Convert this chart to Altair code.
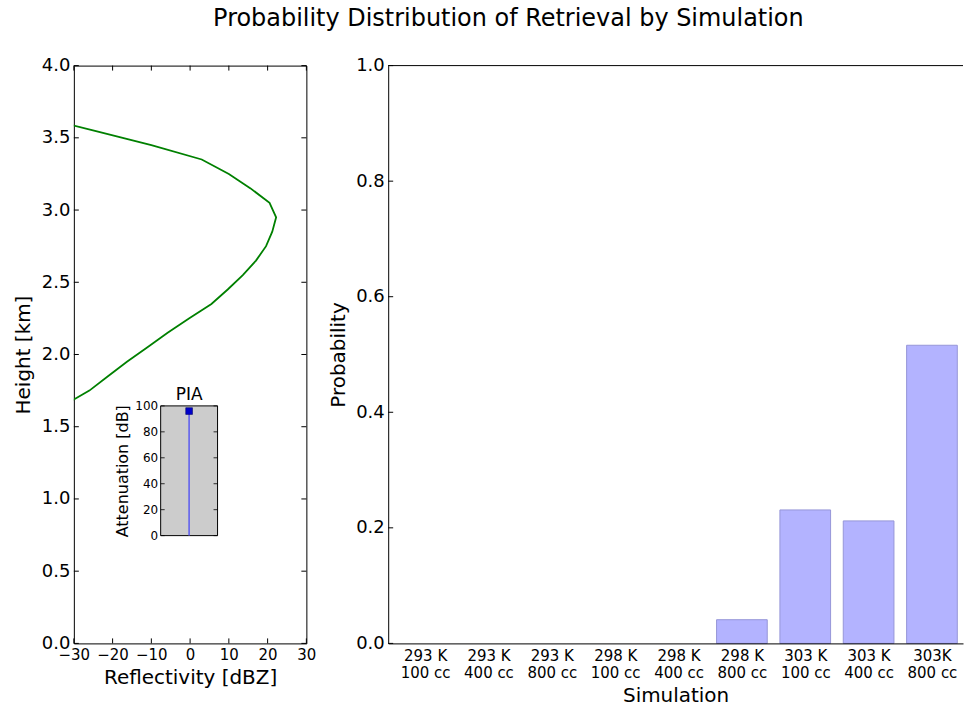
import json
import altair as alt
import pandas as pd

# ---------------- data ----------------
height_km = [1.65, 1.75, 1.85, 1.95, 2.05, 2.15, 2.25, 2.35, 2.45, 2.55, 2.65,
             2.75, 2.85, 2.95, 3.05, 3.15, 3.25, 3.35, 3.45, 3.55, 3.65]
reflectivity_dbz = [-32.5, -26.0, -21.2, -16.3, -11.0, -5.8, -0.3, 5.5, 9.7, 13.6, 17.0,
                    19.6, 21.2, 22.2, 20.5, 15.6, 10.0, 3.0, -10.0, -24.8, -39.7]
dbz_ticks = [-30, -20, -10, 0, 10, 20, 30]
height_ticks = [0.0, 0.5, 1.0, 1.5, 2.0, 2.5, 3.0, 3.5, 4.0]

pia_db = [96]
pia_ticks = [0, 20, 40, 60, 80, 100]
pia_x_domain = [-1, 1]
pia_x = [0]

simulations = ["293 K|100 cc", "293 K|400 cc", "293 K|800 cc",
               "298 K|100 cc", "298 K|400 cc", "298 K|800 cc",
               "303 K|100 cc", "303 K|400 cc", "303K|800 cc"]
probability = [0.0, 0.0, 0.0, 0.0, 0.0, 0.041, 0.231, 0.212, 0.516]
prob_ticks = [0.0, 0.2, 0.4, 0.6, 0.8, 1.0]

FONT = "DejaVu Sans"
W1, H = 233, 579
W2 = 576
TICK = 5

# ---------------- left panel ----------------
profile = pd.DataFrame({"dbz": reflectivity_dbz, "h": height_km,
                        "idx": list(range(len(height_km)))})
xs = alt.Scale(domain=[dbz_ticks[0], dbz_ticks[-1]], nice=False, zero=False)
ys = alt.Scale(domain=[height_ticks[0], height_ticks[-1]], nice=False, zero=False)

ax_x = alt.Axis(values=dbz_ticks, title="Reflectivity [dBZ]", ticks=False,
                domain=False, labelFontSize=15, titleFontSize=20,
                labelPadding=4, titlePadding=5, labelFlush=False, labelOverlap=False)
ax_y = alt.Axis(values=height_ticks, format=".1f", title="Height [km]",
                ticks=False, domain=False, labelFontSize=18, titleFontSize=20,
                labelPadding=4, titlePadding=8, labelFlush=False, labelOverlap=False)

line = alt.Chart(profile).mark_line(color="#008000", strokeWidth=1.8, clip=True).encode(
    x=alt.X("dbz:Q", scale=xs, axis=ax_x),
    y=alt.Y("h:Q", scale=ys, axis=ax_y),
    order="idx:Q",
)

xt = pd.DataFrame({"dbz": dbz_ticks})
yt = pd.DataFrame({"h": height_ticks})
bottom_ticks = alt.Chart(xt).mark_rule(color="black").encode(
    x=alt.X("dbz:Q", scale=xs, axis=ax_x), y=alt.value(H), y2=alt.value(H - TICK))
top_ticks = alt.Chart(xt).mark_rule(color="black").encode(
    x=alt.X("dbz:Q", scale=xs, axis=ax_x), y=alt.value(0), y2=alt.value(TICK))
left_ticks = alt.Chart(yt).mark_rule(color="black").encode(
    y=alt.Y("h:Q", scale=ys, axis=ax_y), x=alt.value(0), x2=alt.value(TICK))
right_ticks = alt.Chart(yt).mark_rule(color="black").encode(
    y=alt.Y("h:Q", scale=ys, axis=ax_y), x=alt.value(W1), x2=alt.value(W1 - TICK))

main = alt.layer(line, bottom_ticks, top_ticks, left_ticks, right_ticks)

# inset (PIA)
ixs = alt.Scale(domain=pia_x_domain, range=[87, 144], nice=False, zero=False)
iys = alt.Scale(domain=[pia_ticks[0], pia_ticks[-1]], range=[471, 341], nice=False, zero=False)
ax_iy = alt.Axis(orient="left", offset=-87, values=pia_ticks, ticks=False,
                 domain=False, labelFontSize=12, title="Attenuation [dB]",
                 titleFontSize=16, labelPadding=3, titlePadding=4,
                 labelFlush=False, labelOverlap=False)

frame_df = pd.DataFrame({"ix": [pia_x_domain[0]], "ix2": [pia_x_domain[1]],
                         "iy": [pia_ticks[0]], "iy2": [pia_ticks[-1]]})
pia_df = pd.DataFrame({"ix": pia_x, "iy": [pia_ticks[0]], "iy2": pia_db})
pt_df = pd.DataFrame({"ix": pia_x, "iy": pia_db})
ttl_df = pd.DataFrame({"ix": pia_x, "iy": [pia_ticks[-1]]})
it = pd.DataFrame({"iy": pia_ticks})

inset_bg = alt.Chart(frame_df).mark_rect(fill="#cccccc", stroke="black", strokeWidth=1).encode(
    x=alt.X("ix:Q", scale=ixs, axis=None),
    x2="ix2:Q",
    y=alt.Y("iy:Q", scale=iys, axis=ax_iy),
    y2="iy2:Q",
)
inset_rule = alt.Chart(pia_df).mark_rule(color="#6262ee", strokeWidth=1.6).encode(
    x=alt.X("ix:Q", scale=ixs, axis=None),
    y=alt.Y("iy:Q", scale=iys, axis=ax_iy),
    y2="iy2:Q",
)
inset_pt = alt.Chart(pt_df).mark_square(size=45, color="#0000cc", opacity=1,
                                        stroke="#000066", strokeWidth=0.6).encode(
    x=alt.X("ix:Q", scale=ixs, axis=None), y=alt.Y("iy:Q", scale=iys, axis=ax_iy))
inset_title = alt.Chart(ttl_df).mark_text(text="PIA", fontSize=17, baseline="bottom",
                                          dy=-2, font=FONT, color="black").encode(
    x=alt.X("ix:Q", scale=ixs, axis=None), y=alt.Y("iy:Q", scale=iys, axis=ax_iy))
inset_rticks = alt.Chart(it).mark_rule(color="black", strokeWidth=0.8).encode(
    y=alt.Y("iy:Q", scale=iys, axis=ax_iy), x=alt.value(144), x2=alt.value(140))
inset_lticks = alt.Chart(it).mark_rule(color="black", strokeWidth=0.8).encode(
    y=alt.Y("iy:Q", scale=iys, axis=ax_iy), x=alt.value(87), x2=alt.value(91))

inset = alt.layer(inset_bg, inset_rule, inset_lticks, inset_rticks, inset_pt, inset_title)

left = alt.layer(main, inset).resolve_scale(x="independent", y="independent").properties(
    width=W1, height=H, view=alt.ViewBackground(stroke="black", strokeWidth=1))

# ---------------- right panel ----------------
sim_df = pd.DataFrame({"sim": simulations, "p": probability,
                       "i": list(range(len(simulations)))})
bx = alt.Scale(domain=[-0.583, 8.49], nice=False, zero=False)
by = alt.Scale(domain=[prob_ticks[0], prob_ticks[-1]], nice=False, zero=False)
label_expr = "split(" + json.dumps(simulations) + "[datum.value], '|')"

ax_bx = alt.Axis(values=list(range(len(simulations))), labelExpr=label_expr,
                 title="Simulation", ticks=False, domain=True, zindex=1,
                 labelFontSize=15, labelLineHeight=17, titleFontSize=20,
                 labelPadding=5, titlePadding=5, labelFlush=False,
                 labelOverlap=False, labelBaseline="top")
ax_by = alt.Axis(values=prob_ticks, format=".1f", title="Probability",
                 ticks=False, domain=True, labelFontSize=18, titleFontSize=20,
                 labelPadding=4, titlePadding=7, labelFlush=False, labelOverlap=False)

bars = alt.Chart(sim_df).transform_filter("datum.p > 0").transform_calculate(
    x0="datum.i - 0.4", x1="datum.i + 0.4", base=str(prob_ticks[0])
).mark_rect(fill="#b3b3ff", stroke="#9696d8", strokeWidth=1).encode(
    x=alt.X("x0:Q", scale=bx, axis=ax_bx),
    x2="x1:Q",
    y=alt.Y("p:Q", scale=by, axis=ax_by),
    y2="base:Q",
)
pt = pd.DataFrame({"p": prob_ticks})
r_lticks = alt.Chart(pt).mark_rule(color="black").encode(
    y=alt.Y("p:Q", scale=by, axis=ax_by), x=alt.value(0), x2=alt.value(TICK))
top_border = alt.Chart(pd.DataFrame({"p": [prob_ticks[-1]]})).mark_rule(color="black").encode(
    y=alt.Y("p:Q", scale=by, axis=ax_by))

right = alt.layer(bars, r_lticks, top_border).properties(
    width=W2, height=H, view=alt.ViewBackground(stroke="transparent"))

chart = alt.hconcat(left, right, spacing=10).properties(
    title=alt.Title(text="Probability Distribution of Retrieval by Simulation",
                    fontSize=24, font=FONT, fontWeight="normal", anchor="middle",
                    offset=25, dx=20, color="black"),
    padding={"left": 12, "top": 6, "right": 0, "bottom": 0},
).configure_axis(
    labelFont=FONT, titleFont=FONT, labelColor="black", titleColor="black",
    titleFontWeight="normal", grid=False, domainColor="black", domainWidth=1,
).configure_text(font=FONT)

chart.save("out.html", embed_options={"renderer": "svg", "actions": False})
